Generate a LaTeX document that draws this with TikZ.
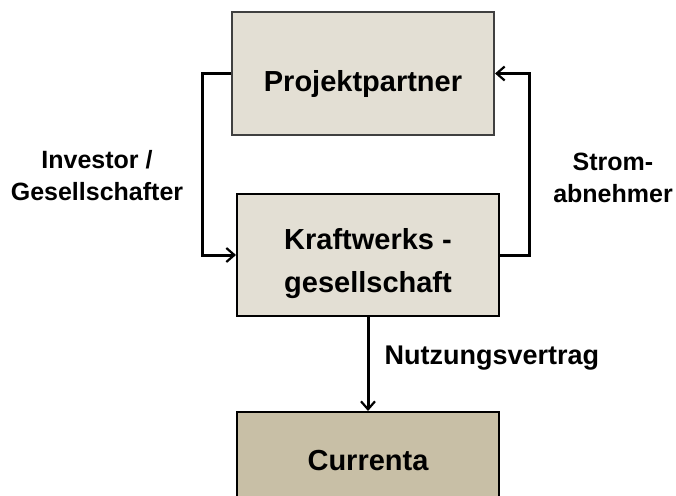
\documentclass[tikz,border=0pt]{standalone}
\usepackage{fontspec}
\setmainfont{Liberation Sans}
\usetikzlibrary{arrows.meta,positioning}
\definecolor{boxfill}{HTML}{E3DFD4}
\definecolor{basefill}{HTML}{C8BFA6}
\tikzset{
  box/.style={draw=black, line width=2pt, fill=boxfill, minimum width=262pt, minimum height=122pt,
    align=center, font=\fontsize{29}{43}\selectfont\bfseries},
  conn/.style={line width=3pt, -{Straight Barb[length=8pt,width=14pt,line width=2.2pt]}},
  lbl/.style={align=center, font=\fontsize{25}{32}\selectfont\bfseries}
}
\begin{document}
\begin{tikzpicture}[x=1pt,y=-1pt]
  \useasboundingbox (0,0) rectangle (676,495);
  %%%%% boxes
  \node[box, draw=black!75, minimum height=123pt, text height=35pt, text depth=0pt] (pp) at (363,73.5) {Projektpartner};
  \node[box, text height=74pt, text depth=0pt] (kw) at (368,255) {Kraftwerks -\\gesellschaft};
  \node[box, fill=basefill, minimum height=100pt, text height=16pt, text depth=0pt] (cu) at (368,462) {Currenta};
  %%%%% connectors
  \draw[conn] (pp.west) -- ++(-29,0) |- (kw.west);
  \draw[conn] (kw.east) -- ++(29,0) |- (pp.east);
  \draw[conn] (kw.south) -- (cu.north);
  %%%%% labels
  \node[lbl] (inv) at (97,176) {Investor /\\Gesellschafter};
  \node[lbl] (strom) at (613,178) {Strom-\\abnehmer};
  \node[lbl, anchor=west, font=\fontsize{27}{32}\selectfont\bfseries] (nutz) at (381,358) {Nutzungsvertrag};
\end{tikzpicture}
\end{document}
